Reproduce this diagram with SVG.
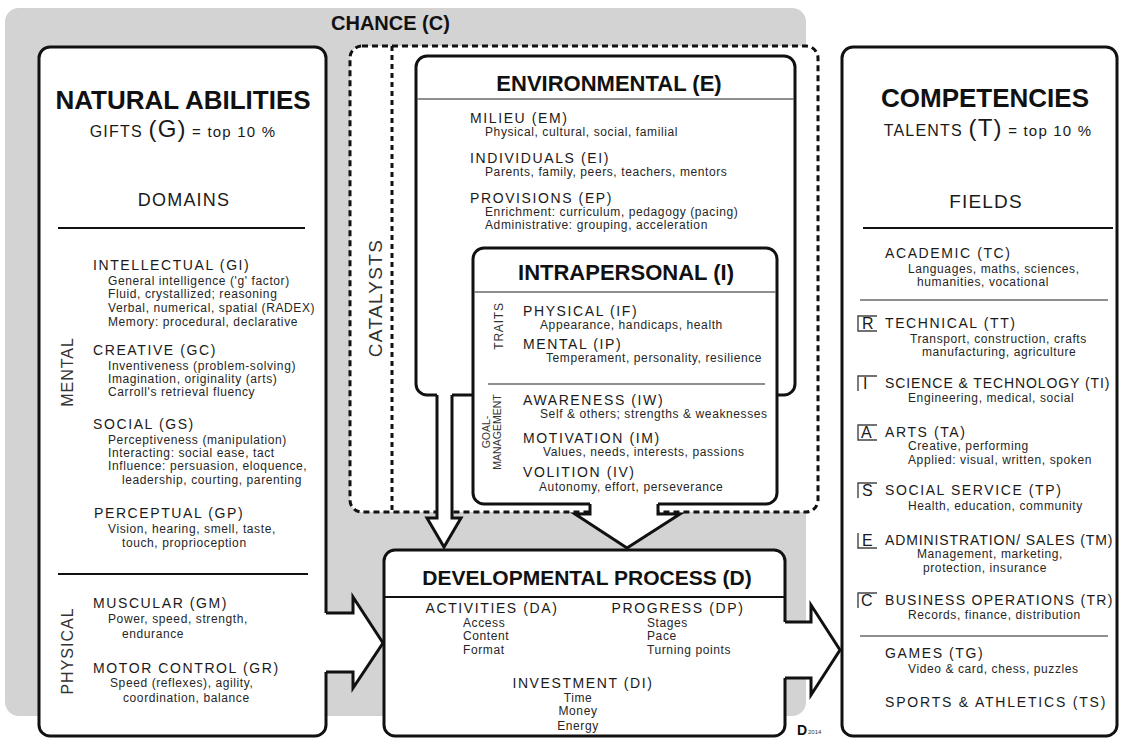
<svg xmlns="http://www.w3.org/2000/svg" width="1123" height="739" viewBox="0 0 1123 739">
<style>
text { font-family: "Liberation Sans", Arial, sans-serif; }
.ttl { font-weight: bold; fill: #111; }
.hd { font-size: 14px; letter-spacing: 1.6px; fill: #1a1a1a; }
.ds { font-size: 12px; letter-spacing: 0.6px; fill: #262626; }
.sub { fill: #1a1a1a; }
.vl { fill: #333; }
.box { fill: #fff; stroke: #111; stroke-width: 3; }
.sep { stroke: #111; stroke-width: 2; }
.sepl { stroke: #6a6a6a; stroke-width: 1.3; }
.dash { fill: #fff; stroke: #111; stroke-width: 3; stroke-dasharray: 6 4; }
.brk { fill: none; stroke: #444; stroke-width: 1.4; }
.arw-fill { fill: #fff; stroke: none; }
.arw { fill: none; stroke: #111; stroke-width: 3; stroke-linejoin: miter; }
.mid { text-anchor: middle; }
</style>

<!-- CHANCE background -->
<g id="chance">
  <rect x="5" y="8" width="801" height="708" rx="14" fill="#d3d3d3"/>
  <text class="ttl" x="331" y="30" font-size="20">CHANCE (C)</text>
</g>

<!-- CATALYSTS dashed frame -->
<g id="catalysts">
  <rect class="dash" x="350" y="46" width="468" height="466" rx="12"/>
  <line x1="392" y1="46" x2="392" y2="512" stroke="#111" stroke-width="3" stroke-dasharray="5 4"/>
  <text class="vl mid" transform="translate(382,298) rotate(-90)" font-size="19" letter-spacing="1.3">CATALYSTS</text>
</g>

<!-- ENVIRONMENTAL -->
<g id="environmental">
  <rect class="box" x="416" y="56" width="379" height="339" rx="11"/>
  <text class="ttl mid" x="609" y="91" font-size="22">ENVIRONMENTAL (E)</text>
  <line class="sepl" x1="417" y1="99" x2="794" y2="99"/>
  <text class="hd" x="470" y="123">MILIEU (EM)</text>
  <text class="ds" x="485" y="136">Physical, cultural, social, familial</text>
  <text class="hd" x="470" y="163">INDIVIDUALS (EI)</text>
  <text class="ds" x="485" y="176" letter-spacing="0.9">Parents, family, peers, teachers, mentors</text>
  <text class="hd" x="470" y="203">PROVISIONS (EP)</text>
  <text class="ds" x="485" y="216">Enrichment: curriculum, pedagogy (pacing)</text>
  <text class="ds" x="485" y="229">Administrative: grouping, acceleration</text>
</g>

<!-- INTRAPERSONAL -->
<g id="intrapersonal">
  <rect class="box" x="473" y="248" width="304" height="256" rx="11"/>
  <text class="ttl mid" x="626" y="280" font-size="22">INTRAPERSONAL (I)</text>
  <line class="sepl" x1="474" y1="292" x2="776" y2="292"/>
  <text class="vl mid" transform="translate(503,326) rotate(-90)" font-size="12" letter-spacing="0.8">TRAITS</text>
  <text class="hd" x="523" y="316">PHYSICAL (IF)</text>
  <text class="ds" x="540" y="329">Appearance, handicaps, health</text>
  <text class="hd" x="523" y="349">MENTAL (IP)</text>
  <text class="ds" x="546" y="362">Temperament, personality, resilience</text>
  <line class="sepl" x1="488" y1="384" x2="765" y2="384"/>
  <text class="vl mid" transform="translate(490,432) rotate(-90)" font-size="10.5">GOAL-</text>
  <text class="vl mid" transform="translate(501,432) rotate(-90)" font-size="10.5">MANAGEMENT</text>
  <text class="hd" x="523" y="405">AWARENESS (IW)</text>
  <text class="ds" x="540" y="418">Self &amp; others; strengths &amp; weaknesses</text>
  <text class="hd" x="523" y="443">MOTIVATION (IM)</text>
  <text class="ds" x="543" y="456">Values, needs, interests, passions</text>
  <text class="hd" x="523" y="477">VOLITION (IV)</text>
  <text class="ds" x="539" y="491">Autonomy, effort, perseverance</text>
</g>

<!-- NATURAL ABILITIES -->
<g id="natural-abilities">
  <rect class="box" x="39" y="47" width="287" height="689" rx="11"/>
  <text class="ttl mid" x="183" y="109" font-size="26">NATURAL ABILITIES</text>
  <text class="sub mid" x="183" y="137" letter-spacing="1.2"><tspan font-size="16">GIFTS </tspan><tspan font-size="24">(G)</tspan><tspan font-size="15"> = top 10 %</tspan></text>
  <text class="sub mid" x="184" y="206" font-size="18" letter-spacing="1.2">DOMAINS</text>
  <line class="sep" x1="58" y1="228" x2="305" y2="228"/>
  <text class="vl mid" transform="translate(73,372) rotate(-90)" font-size="16" letter-spacing="1">MENTAL</text>
  <text class="hd" x="93" y="270">INTELLECTUAL (GI)</text>
  <text class="ds" x="108" y="285">General intelligence ('g' factor)</text>
  <text class="ds" x="108" y="298">Fluid, crystallized; reasoning</text>
  <text class="ds" x="108" y="312">Verbal, numerical, spatial (RADEX)</text>
  <text class="ds" x="108" y="326">Memory: procedural, declarative</text>
  <text class="hd" x="93" y="355">CREATIVE (GC)</text>
  <text class="ds" x="108" y="370">Inventiveness (problem-solving)</text>
  <text class="ds" x="108" y="383">Imagination, originality (arts)</text>
  <text class="ds" x="108" y="396">Carroll's retrieval fluency</text>
  <text class="hd" x="93" y="429">SOCIAL (GS)</text>
  <text class="ds" x="108" y="444">Perceptiveness (manipulation)</text>
  <text class="ds" x="108" y="457">Interacting: social ease, tact</text>
  <text class="ds" x="108" y="470">Influence: persuasion, eloquence,</text>
  <text class="ds" x="122" y="484">leadership, courting, parenting</text>
  <text class="hd" x="94" y="518">PERCEPTUAL (GP)</text>
  <text class="ds" x="108" y="533">Vision, hearing, smell, taste,</text>
  <text class="ds" x="122" y="547">touch, proprioception</text>
  <line class="sep" x1="58" y1="574" x2="308" y2="574"/>
  <text class="vl mid" transform="translate(73,651) rotate(-90)" font-size="16" letter-spacing="1">PHYSICAL</text>
  <text class="hd" x="93" y="608">MUSCULAR (GM)</text>
  <text class="ds" x="108" y="623">Power, speed, strength,</text>
  <text class="ds" x="122" y="638">endurance</text>
  <text class="hd" x="93" y="673">MOTOR CONTROL (GR)</text>
  <text class="ds" x="110" y="687">Speed (reflexes), agility,</text>
  <text class="ds" x="123" y="702">coordination, balance</text>
</g>

<!-- DEVELOPMENTAL PROCESS -->
<g id="developmental-process">
  <rect class="box" x="384" y="550" width="401" height="186" rx="11"/>
  <text class="ttl mid" x="587" y="585" font-size="21">DEVELOPMENTAL PROCESS (D)</text>
  <line class="sep" x1="385" y1="597" x2="784" y2="597"/>
  <text class="hd mid" x="492" y="613">ACTIVITIES (DA)</text>
  <text class="ds" x="463" y="627">Access</text>
  <text class="ds" x="463" y="640">Content</text>
  <text class="ds" x="463" y="654">Format</text>
  <text class="hd mid" x="678" y="613">PROGRESS (DP)</text>
  <text class="ds" x="647" y="627">Stages</text>
  <text class="ds" x="647" y="640">Pace</text>
  <text class="ds" x="647" y="654">Turning points</text>
  <text class="hd mid" x="583" y="688">INVESTMENT (DI)</text>
  <text class="ds mid" x="578" y="702">Time</text>
  <text class="ds mid" x="578" y="715">Money</text>
  <text class="ds mid" x="578" y="730">Energy</text>
  <text x="797" y="735" font-family="Liberation Serif, serif" font-weight="bold" font-size="14" fill="#111">D</text>
  <text x="808" y="734" font-size="6" fill="#333">2014</text>
</g>

<!-- COMPETENCIES -->
<g id="competencies">
  <rect class="box" x="842" y="47" width="275" height="689" rx="11"/>
  <text class="ttl mid" x="985" y="107" font-size="26">COMPETENCIES</text>
  <text class="sub mid" x="988" y="136" letter-spacing="1.2"><tspan font-size="16">TALENTS </tspan><tspan font-size="24">(T)</tspan><tspan font-size="15"> = top 10 %</tspan></text>
  <text class="sub mid" x="986" y="208" font-size="19" letter-spacing="1.2">FIELDS</text>
  <line class="sep" x1="863" y1="228" x2="1113" y2="228"/>
  <text class="hd" x="885" y="258">ACADEMIC (TC)</text>
  <text class="ds" x="908" y="273">Languages, maths, sciences,</text>
  <text class="ds" x="917" y="286">humanities, vocational</text>
  <line class="sepl" x1="860" y1="300" x2="1108" y2="300"/>

  <path class="brk" d="M877,316 H858 V331 H877"/>
  <text x="862" y="329" font-size="16" fill="#1a1a1a">R</text>
  <text class="hd" x="885" y="328">TECHNICAL (TT)</text>
  <text class="ds" x="910" y="343">Transport, construction, crafts</text>
  <text class="ds" x="922" y="356">manufacturing, agriculture</text>

  <path class="brk" d="M877,376 H858 V391"/>
  <text x="863" y="389" font-size="16" fill="#1a1a1a">I</text>
  <text class="hd" x="885" y="388" textLength="226" lengthAdjust="spacing">SCIENCE &amp; TECHNOLOGY (TI)</text>
  <text class="ds" x="908" y="402">Engineering, medical, social</text>

  <path class="brk" d="M877,425 H858 V440 H877"/>
  <text x="861" y="438" font-size="16" fill="#1a1a1a">A</text>
  <text class="hd" x="885" y="437">ARTS (TA)</text>
  <text class="ds" x="908" y="450">Creative, performing</text>
  <text class="ds" x="908" y="464">Applied: visual, written, spoken</text>

  <path class="brk" d="M877,483 H858 V498"/>
  <text x="862" y="496" font-size="16" fill="#1a1a1a">S</text>
  <text class="hd" x="885" y="495">SOCIAL SERVICE (TP)</text>
  <text class="ds" x="908" y="510">Health, education, community</text>

  <path class="brk" d="M858,533 V548 H877"/>
  <text x="862" y="546" font-size="16" fill="#1a1a1a">E</text>
  <text class="hd" x="885" y="545" textLength="229" lengthAdjust="spacing">ADMINISTRATION/ SALES (TM)</text>
  <text class="ds" x="917" y="558">Management, marketing,</text>
  <text class="ds" x="923" y="572">protection, insurance</text>

  <path class="brk" d="M877,593 H858 V608"/>
  <text x="861" y="606" font-size="16" fill="#1a1a1a">C</text>
  <text class="hd" x="885" y="605" textLength="229" lengthAdjust="spacing">BUSINESS OPERATIONS (TR)</text>
  <text class="ds" x="908" y="619">Records, finance, distribution</text>
  <line class="sepl" x1="860" y1="636" x2="1108" y2="636"/>
  <text class="hd" x="885" y="658">GAMES (TG)</text>
  <text class="ds" x="908" y="673">Video &amp; card, chess, puzzles</text>
  <text class="hd" x="885" y="707" textLength="222" lengthAdjust="spacing">SPORTS &amp; ATHLETICS (TS)</text>
</g>

<!-- Connectors: block arrows -->
<g id="connectors">
  <path class="arw-fill" d="M437,393 L437,518 L427,518 L444,547 L461,518 L452,518 L452,393 Z"/>
  <path class="arw" d="M437,395 L437,518 L427,518 L444,547 L461,518 L452,518 L452,395"/>
  <path class="arw-fill" d="M590,502 L590,514 L575,514 L627,548 L680,514 L658,514 L658,502 Z"/>
  <path class="arw" d="M590,504 L590,514 L575,514 L627,548 L680,514 L658,514 L658,504"/>
  <path class="arw-fill" d="M324,613 L353,613 L353,597 L383,643 L353,688 L353,672 L324,672 Z"/>
  <path class="arw" d="M326,613 L353,613 L353,597 L383,643 L353,688 L353,672 L326,672"/>
  <path class="arw-fill" d="M783,622 L811,622 L811,605 L840,650 L811,695 L811,678 L783,678 Z"/>
  <path class="arw" d="M785,622 L811,622 L811,605 L840,650 L811,695 L811,678 L785,678"/>
</g>
</svg>
